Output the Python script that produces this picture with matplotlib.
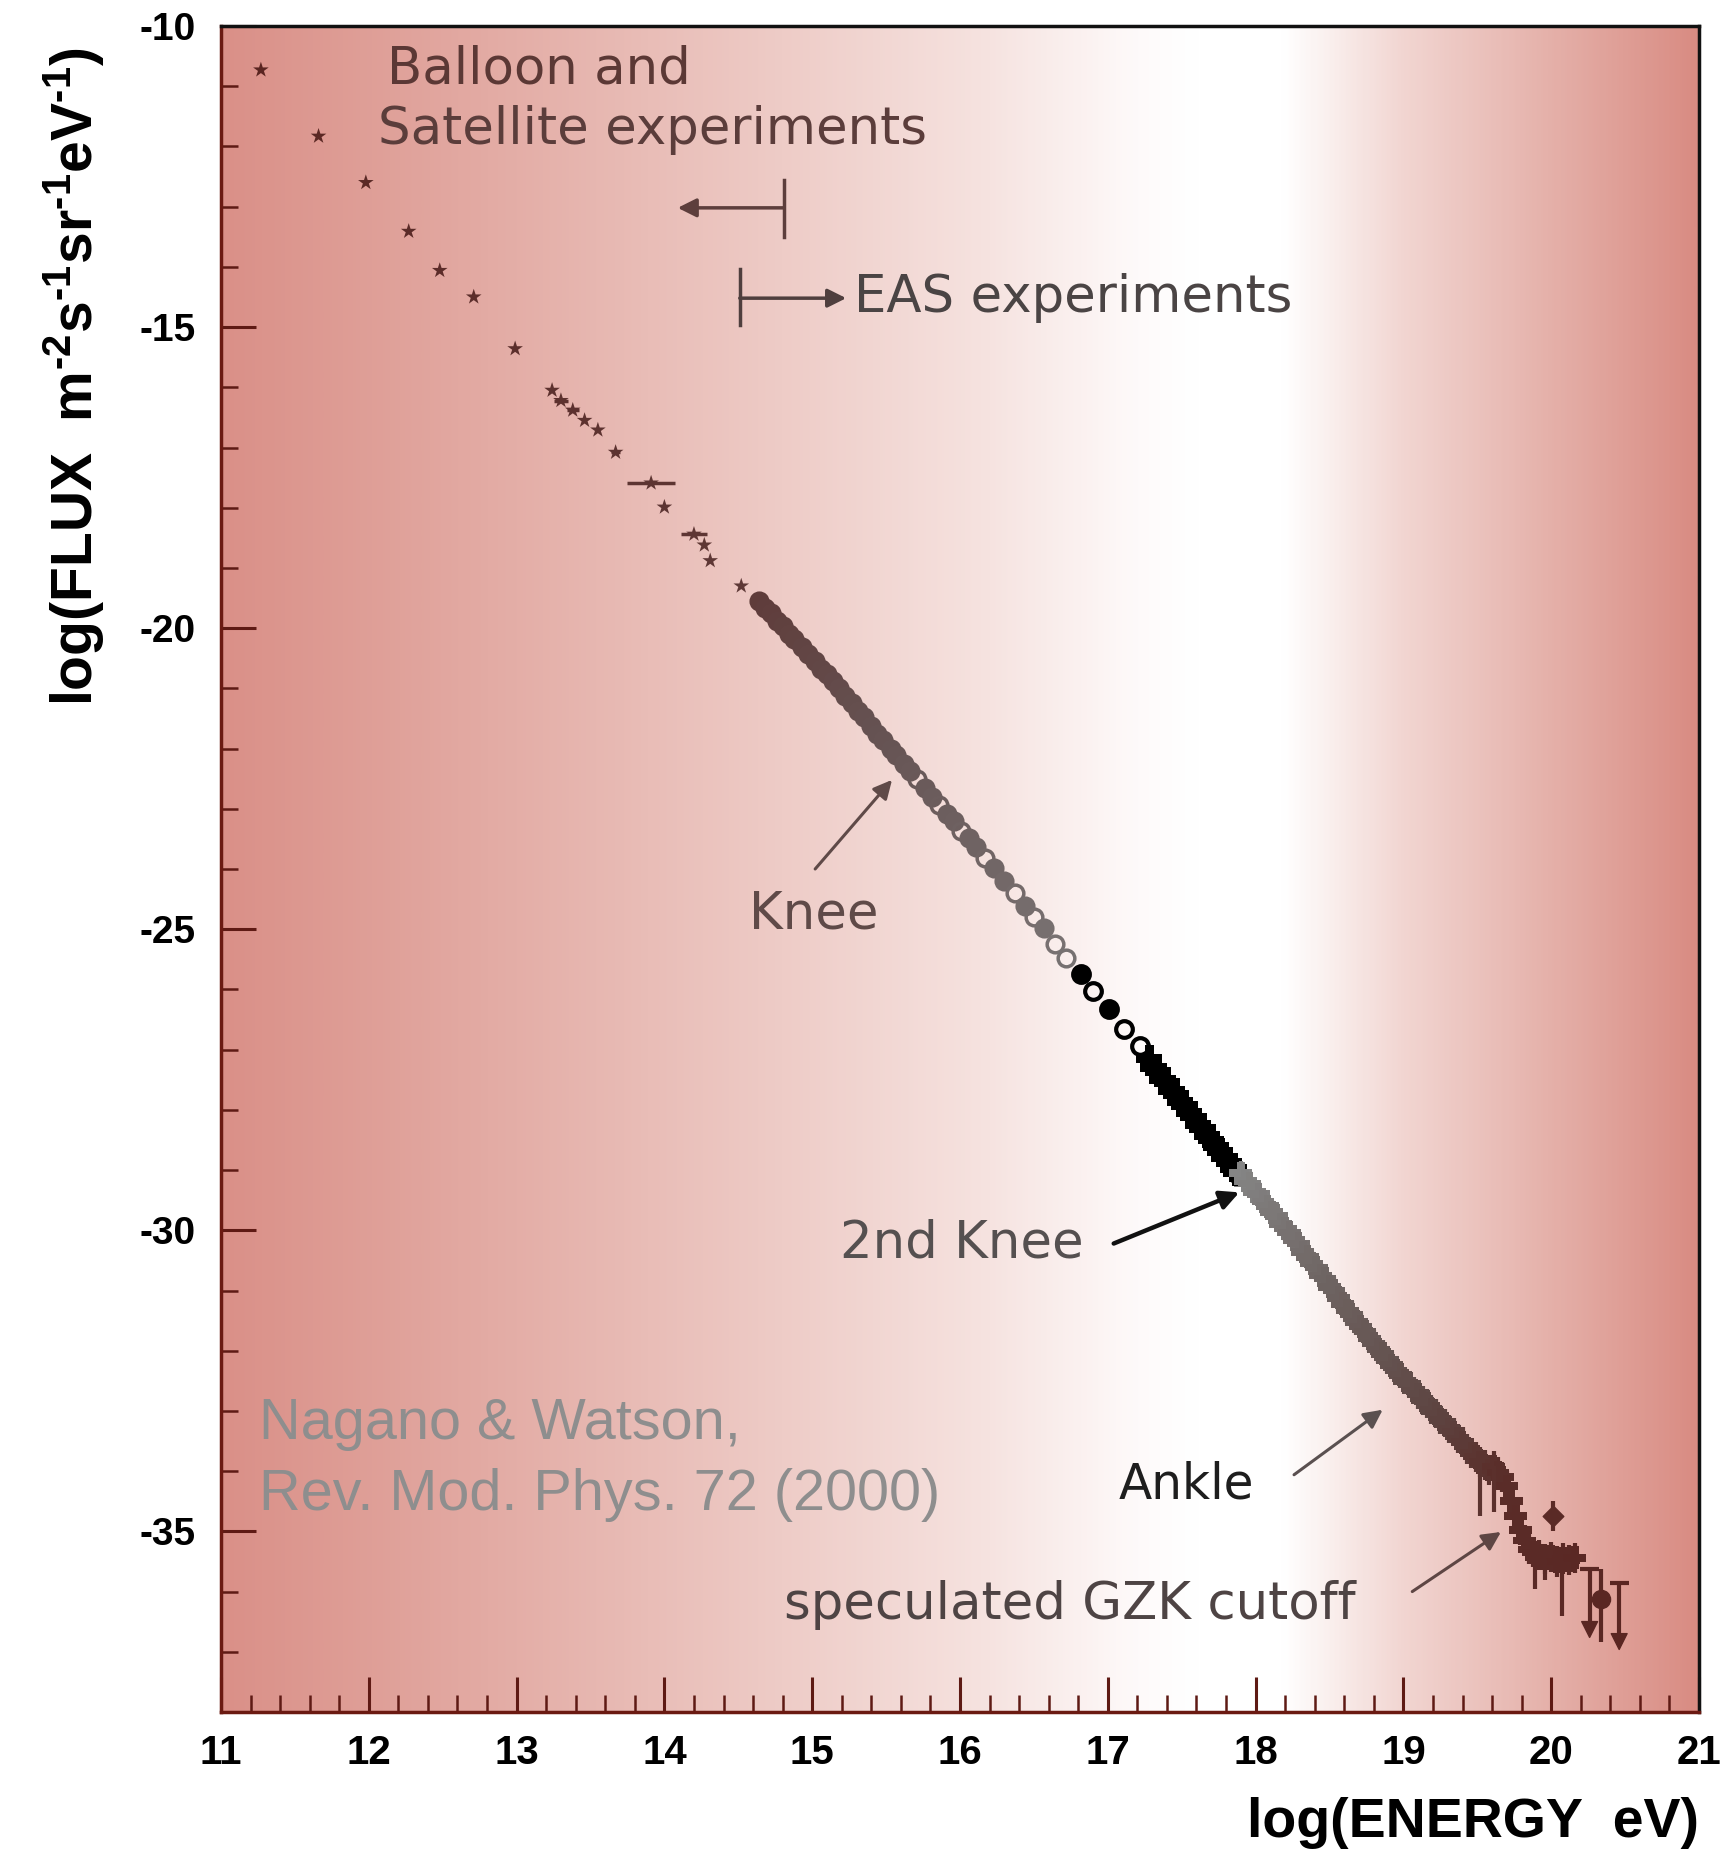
"""
Cosmic ray energy spectrum (after Nagano & Watson, Rev. Mod. Phys. 72, 2000).
"""
import numpy as np
import matplotlib.pyplot as plt
from matplotlib.colors import LinearSegmentedColormap
from matplotlib.ticker import MultipleLocator

plt.rcParams['font.family'] = ['Liberation Sans', 'DejaVu Sans']
plt.rcParams['axes.unicode_minus'] = False
plt.rcParams['mathtext.fontset'] = 'custom'
plt.rcParams['mathtext.bf'] = 'Liberation Sans:bold'
plt.rcParams['mathtext.rm'] = 'Liberation Sans:bold'
plt.rcParams['mathtext.default'] = 'bf'

# ---- data: log10(E / eV) and log10(flux) ----
# balloon and satellite experiments
bs_x = [11.27, 11.66, 11.98, 12.27, 12.48, 12.71, 12.99, 13.24, 13.30, 13.38,
        13.46, 13.55, 13.67, 13.91, 14.00, 14.20, 14.27, 14.31, 14.52]
bs_y = [-10.73, -11.83, -12.60, -13.41, -14.06, -14.50, -15.36, -16.05, -16.22, -16.38,
        -16.55, -16.71, -17.08, -17.59, -17.99, -18.44, -18.62, -18.88, -19.30]
bs_xerr = [0, 0, 0, 0, 0, 0, 0, 0, 0.05, 0.04,
           0, 0, 0.03, 0.16, 0, 0.09, 0, 0, 0]

# EAS data up to the knee region (grey points)
knee_x = [14.64, 14.68, 14.72, 14.76, 14.80, 14.84, 14.88, 14.93, 14.97, 15.02,
          15.06, 15.10, 15.14, 15.18, 15.22, 15.27, 15.31, 15.35, 15.40, 15.44,
          15.48, 15.53, 15.57, 15.62, 15.66, 15.71, 15.76, 15.81, 15.86, 15.91,
          15.96, 16.01, 16.06, 16.11, 16.17, 16.23, 16.30, 16.37, 16.44, 16.50,
          16.57, 16.64, 16.72]
knee_y = [-19.55, -19.67, -19.75, -19.88, -19.97, -20.10, -20.18, -20.31, -20.43, -20.54,
          -20.68, -20.76, -20.88, -20.99, -21.12, -21.25, -21.37, -21.48, -21.62, -21.75,
          -21.85, -22.01, -22.11, -22.26, -22.37, -22.51, -22.65, -22.80, -22.93, -23.08,
          -23.21, -23.37, -23.49, -23.64, -23.82, -23.98, -24.20, -24.40, -24.61, -24.79,
          -24.98, -25.25, -25.48]
knee_open_x = [15.71, 15.86, 16.01, 16.17, 16.37, 16.50, 16.64, 16.72]

# black circles above the knee
blk_x = [16.82, 16.90, 17.01, 17.11, 17.22]
blk_y = [-25.75, -26.03, -26.33, -26.66, -26.94]
blk_open = [False, True, False, True, True]

# dense crosses up to the 2nd knee
crs_x = [17.28, 17.31, 17.34, 17.37, 17.40, 17.43, 17.46, 17.49, 17.52, 17.55,
         17.58, 17.61, 17.64, 17.67, 17.70, 17.73, 17.76, 17.79, 17.82, 17.85, 17.87]
crs_y = [-27.15, -27.30, -27.36, -27.49, -27.55, -27.68, -27.74, -27.86, -27.93, -28.05,
         -28.12, -28.24, -28.31, -28.42, -28.50, -28.61, -28.69, -28.79, -28.88, -28.98, -29.05]

# highest energies
band_x = [17.90, 17.93, 17.96, 17.99, 18.02, 18.05, 18.08, 18.11, 18.14, 18.17,
          18.20, 18.23, 18.26, 18.29, 18.32, 18.35, 18.38, 18.41, 18.44, 18.47,
          18.50, 18.53, 18.56, 18.59, 18.62, 18.65, 18.68, 18.71, 18.74, 18.77,
          18.80, 18.83, 18.86, 18.89, 18.92, 18.95, 18.98, 19.01, 19.04, 19.07,
          19.10, 19.13, 19.16, 19.19, 19.22, 19.25, 19.28, 19.31, 19.34, 19.37,
          19.40, 19.43, 19.46, 19.49, 19.52, 19.55, 19.58, 19.61, 19.64, 19.67,
          19.70, 19.73, 19.76, 19.79, 19.82, 19.85, 19.88, 19.92, 19.96, 20.00,
          20.04, 20.08, 20.12, 20.16]
band_y = [-29.05, -29.18, -29.22, -29.36, -29.40, -29.52, -29.60, -29.70, -29.76, -29.90,
          -29.97, -30.04, -30.16, -30.22, -30.36, -30.44, -30.55, -30.62, -30.75, -30.80,
          -30.94, -31.00, -31.12, -31.22, -31.33, -31.40, -31.52, -31.60, -31.68, -31.80,
          -31.88, -31.98, -32.05, -32.15, -32.24, -32.33, -32.40, -32.50, -32.55, -32.66,
          -32.72, -32.83, -32.88, -32.98, -33.04, -33.14, -33.20, -33.30, -33.35, -33.46,
          -33.52, -33.63, -33.70, -33.76, -33.85, -33.90, -33.98, -33.92, -34.02, -34.10,
          -34.25, -34.50, -34.75, -34.98, -35.15, -35.30, -35.35, -35.40, -35.46, -35.42,
          -35.50, -35.45, -35.48, -35.44]
band_err = ([0.2] * 20 + [0.22] * 20 + [0.24] * 10 + [0.25] * 11 + [0.25] * 13)

# long lower error bars in the GZK region
drop_x = [19.52, 19.61, 19.89, 19.96, 20.07]
drop_top = [-33.85, -33.92, -35.35, -35.46, -35.50]
drop_bot = [-34.75, -34.68, -35.96, -35.80, -36.41]

# isolated point above the cut-off
iso_x = [20.01]
iso_y = [-34.75]
iso_err = [0.25]

# last measured point and upper limits
last_x = [20.34]
last_y = [-36.13]
last_lo = [-36.84]
last_hi = [-35.63]
ul_x = [20.26, 20.46]
ul_top = [-35.63, -35.85]
ul_tip = [-36.63, -36.83]

# ---- styling ----
bg_cmap = LinearSegmentedColormap.from_list('bg', [
    (0.00, '#DA9088'), (0.18, '#E3ABA4'), (0.38, '#EECCC7'), (0.52, '#F6E3E0'),
    (0.62, '#FEFAFA'), (0.66, '#FFFFFF'), (0.72, '#FFFFFF'), (0.80, '#F2D6D2'),
    (0.90, '#E5B1AA'), (1.00, '#D98C83')])
pt_cmap = LinearSegmentedColormap.from_list('pts', [
    (0.000, '#5a2420'), (0.350, '#5e3836'), (0.450, '#665454'), (0.570, '#797272'),
    (0.578, '#707070'), (0.580, '#000000'), (0.688, '#000000'), (0.690, '#858585'),
    (0.750, '#6e6462'), (0.820, '#5e4643'), (0.870, '#5a2c28'), (1.000, '#5a221e')])


def pt_color(xs):
    return pt_cmap((np.asarray(xs, dtype=float) - 11.0) / 10.0)


fig = plt.figure(figsize=(17.22, 18.62), dpi=100)
ax = fig.add_axes([221 / 1722, 1 - 1712 / 1862, 1478 / 1722, 1686 / 1862])

ax.imshow(np.linspace(0, 1, 800)[None, :], cmap=bg_cmap, aspect='auto',
          extent=(11, 21, -38, -10), interpolation='bicubic', zorder=0)

# balloon / satellite
bc = pt_color(bs_x)
ax.hlines(bs_y, np.array(bs_x) - np.array(bs_xerr), np.array(bs_x) + np.array(bs_xerr),
          colors=bc, lw=2.5, zorder=3)
ax.scatter(bs_x, bs_y, s=140, marker='*', c=bc, zorder=4, linewidths=0)

# knee region
kc = pt_color(knee_x)
is_open = np.isin(knee_x, knee_open_x)
for x, y, c, o in zip(knee_x, knee_y, kc, is_open):
    ax.plot(x, y, 'o', ms=12, mfc='none' if o else c, mec=c, mew=2.5, zorder=4)

# black circles
for x, y, o in zip(blk_x, blk_y, blk_open):
    c = pt_color([x])[0]
    ax.plot(x, y, 'o', ms=12, mfc='none' if o else c, mec=c, mew=3, zorder=4)

# crosses
cc = pt_color(crs_x)
ax.vlines(crs_x, np.array(crs_y) - 0.22, np.array(crs_y) + 0.22, colors=cc, lw=3.5, zorder=4)
ax.hlines(crs_y, np.array(crs_x) - 0.06, np.array(crs_x) + 0.06, colors=cc, lw=3.5, zorder=4)
ax.scatter(crs_x, crs_y, s=360, marker='P', c=cc, zorder=4, linewidths=0)

# high-energy band
ec = pt_color(band_x)
by = np.array(band_y)
be = np.array(band_err)
ax.vlines(band_x, by - be, by + be, colors=ec, lw=3, zorder=4)
ax.hlines(band_y, np.array(band_x) - 0.06, np.array(band_x) + 0.06, colors=ec, lw=3, zorder=4)
ax.scatter(band_x, band_y, s=270, marker='P', c=ec, zorder=4, linewidths=0)
ax.vlines(drop_x, drop_bot, drop_top, colors=pt_color(drop_x), lw=3, zorder=4)

ic = pt_color(iso_x)
ax.vlines(iso_x, np.array(iso_y) - iso_err, np.array(iso_y) + iso_err, colors=ic, lw=3, zorder=4)
ax.scatter(iso_x, iso_y, s=110, marker='D', c=ic, zorder=4)

lc = pt_color(last_x)
ax.vlines(last_x, last_lo, last_hi, colors=lc, lw=3, zorder=4)
ax.scatter(last_x, last_y, s=170, marker='o', c=lc, zorder=5)
uc = pt_color(ul_x)
ax.vlines(ul_x, ul_tip, ul_top, colors=uc, lw=3, zorder=4)
ax.scatter(ul_x, ul_top, s=180, marker='_', c=uc, linewidths=3, zorder=4)
ax.scatter(ul_x, ul_tip, s=130, marker='v', c=uc, zorder=4)

# ---- annotations ----
ann = dict(family='DejaVu Sans', fontsize=37, va='center', ha='left')
ax.text(12.12, -10.73, 'Balloon and', color='#5b3835', **ann)
ax.text(12.06, -11.72, 'Satellite experiments', color='#5b3d3b', **ann)
ax.text(15.28, -14.52, 'EAS experiments', color='#4a4444', **ann)
ax.text(14.57, -24.75, 'Knee', color='#5f4a48', **ann)
ax.text(15.19, -30.22, '2nd Knee', color='#555050', **ann)
ax.text(17.07, -34.22, 'Ankle', color='#1e1e1e', fontsize=35, va='center', ha='left',
        family='DejaVu Sans')
ax.text(14.81, -36.23, 'speculated GZK cutoff', color='#4e4444', **ann)

ax.text(11.26, -33.22, 'Nagano & Watson,', color='#8e8e8e', fontsize=41.5,
        va='center', ha='left', family='Liberation Sans')
ax.text(11.26, -34.40, 'Rev. Mod. Phys. 72 (2000)', color='#8e8e8e', fontsize=41.5,
        va='center', ha='left', family='Liberation Sans')

arr = dict(arrowstyle='-|>', mutation_scale=28, shrinkA=0, shrinkB=0)
ax.annotate('', xy=(14.09, -13.02), xytext=(14.81, -13.02),
            arrowprops=dict(color='#5d3e3c', lw=2.5, **arr))
ax.plot([14.81, 14.81], [-12.56, -13.51], color='#5d3e3c', lw=2.5)
ax.annotate('', xy=(15.23, -14.52), xytext=(14.51, -14.52),
            arrowprops=dict(color='#4f3f3e', lw=2.5, **arr))
ax.plot([14.51, 14.51], [-14.04, -14.97], color='#4f3f3e', lw=2.5)
ax.annotate('', xy=(15.54, -22.52), xytext=(15.02, -24.0),
            arrowprops=dict(color='#5f4a48', lw=2.2, **arr))
ax.annotate('', xy=(17.89, -29.37), xytext=(17.04, -30.22),
            arrowprops=dict(color='#111111', lw=3.2, **arr))
ax.annotate('', xy=(18.86, -32.98), xytext=(18.26, -34.06),
            arrowprops=dict(color='#5a5050', lw=2.2, **arr))
ax.annotate('', xy=(19.66, -35.01), xytext=(19.06, -36.0),
            arrowprops=dict(color='#5e4644', lw=2.2, **arr))

# ---- axes ----
ax.set_xlim(11, 21)
ax.set_ylim(-38, -10)
ax.xaxis.set_major_locator(MultipleLocator(1))
ax.xaxis.set_minor_locator(MultipleLocator(0.2))
ax.yaxis.set_major_locator(MultipleLocator(5))
ax.yaxis.set_minor_locator(MultipleLocator(1))
ax.tick_params(which='both', direction='in', top=False, right=False, color='#5e1a14')
ax.tick_params(which='major', length=25, width=2.2)
ax.tick_params(which='minor', length=12, width=1.8)
ax.tick_params(axis='y', which='major', pad=18, labelsize=28)
ax.tick_params(axis='x', which='major', pad=16, labelsize=29)
for lab in ax.get_xticklabels() + ax.get_yticklabels():
    lab.set_fontweight('bold')

for side in ('left', 'bottom'):
    ax.spines[side].set_color('#6b1a12')
    ax.spines[side].set_linewidth(2.5)
for side in ('top', 'right'):
    ax.spines[side].set_color('#111111')
    ax.spines[side].set_linewidth(2.5)

ax.set_xlabel('log(ENERGY  eV)', fontsize=40, fontweight='bold', ha='right', va='center')
ax.xaxis.set_label_coords(1.0, -0.066)
ax.set_ylabel(r'log(FLUX  m$^{\text{-}2}$s$^{\text{-}1}$sr$^{\text{-}1}$eV$^{\text{-}1}$)',
              fontsize=41, fontweight='bold', ha='center', va='center')
ax.yaxis.set_label_coords(-0.0995, 0.792)

fig.savefig('out.png', dpi=100)
